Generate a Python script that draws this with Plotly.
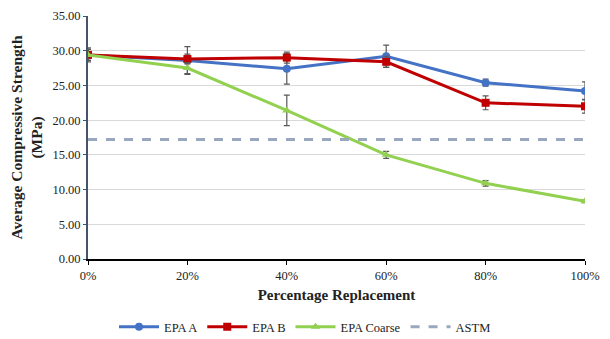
import plotly.graph_objects as go

x_vals = [0, 20, 40, 60, 80, 100]
tick_labels = ["0%", "20%", "40%", "60%", "80%", "100%"]

epa_a = [29.4, 28.6, 27.4, 29.2, 25.4, 24.2]
epa_a_err = [1.0, 2.0, 2.2, 1.6, 0.5, 1.3]
epa_b = [29.4, 28.8, 29.0, 28.4, 22.5, 22.0]
epa_b_err = [0.8, 0.7, 0.8, 0.8, 1.0, 1.0]
epa_coarse = [29.4, 27.5, 21.4, 15.0, 10.9, 8.3]
epa_coarse_err = [0.8, 0.8, 2.2, 0.5, 0.4, 0.2]
astm = [17.2] * 6

font_family = "Liberation Serif, Times New Roman, serif"
err_color = "#595959"

fig = go.Figure()

def err(vals):
    return dict(type="data", array=vals, visible=True, color=err_color, thickness=1.2, width=3)

fig.add_trace(go.Scatter(x=x_vals, y=epa_a, name="EPA A", mode="lines+markers",
                         line=dict(color="#4472C4", width=3),
                         marker=dict(symbol="circle", size=8, color="#4472C4"),
                         error_y=err(epa_a_err)))
fig.add_trace(go.Scatter(x=x_vals, y=epa_b, name="EPA B", mode="lines+markers",
                         line=dict(color="#C00000", width=3),
                         marker=dict(symbol="square", size=8, color="#C00000"),
                         error_y=err(epa_b_err)))
fig.add_trace(go.Scatter(x=x_vals, y=epa_coarse, name="EPA Coarse", mode="lines+markers",
                         line=dict(color="#92D050", width=3),
                         marker=dict(symbol="triangle-up", size=8, color="#92D050"),
                         error_y=err(epa_coarse_err)))
fig.add_trace(go.Scatter(x=x_vals, y=astm, name="ASTM", mode="lines",
                         line=dict(color="#9AA8BF", width=3, dash="dash")))

fig.update_layout(
    width=610, height=339,
    margin=dict(l=88, r=25, t=16, b=80, autoexpand=False),
    paper_bgcolor="white", plot_bgcolor="white",
    font=dict(family=font_family, size=12, color="#222222"),
    showlegend=True,
    legend=dict(orientation="h", xref="container", yref="container",
                x=0.5, xanchor="center", y=0.035, yanchor="middle",
                font=dict(size=12.5, family=font_family), itemwidth=40),
    xaxis=dict(
        range=[0, 100], tickmode="array", tickvals=x_vals, ticktext=tick_labels,
        showgrid=False, showline=True, linecolor="black", linewidth=1.5,
        ticks="outside", ticklen=4, tickcolor="black", zeroline=False, automargin=False,
        title=dict(text="<b>Percentage Replacement</b>", font=dict(size=15, family=font_family), standoff=8),
        tickfont=dict(size=12.5, family=font_family),
    ),
    yaxis=dict(
        range=[0, 35], dtick=5, tickformat=".2f",
        showgrid=True, gridcolor="#D9D9D9", gridwidth=1,
        showline=True, linecolor="#44546A", linewidth=2,
        ticks="outside", ticklen=3, tickcolor="#44546A", zeroline=False, automargin=False,
        title=dict(text="<b>Average Compressive Strength<br>(MPa)</b>", font=dict(size=15.5, family=font_family), standoff=6),
        tickfont=dict(size=12.5, family=font_family),
    ),
)

fig.write_html("out.html", config={"displayModeBar": False},
               post_script="document.body.style.margin='0';document.body.style.overflow='hidden';")
